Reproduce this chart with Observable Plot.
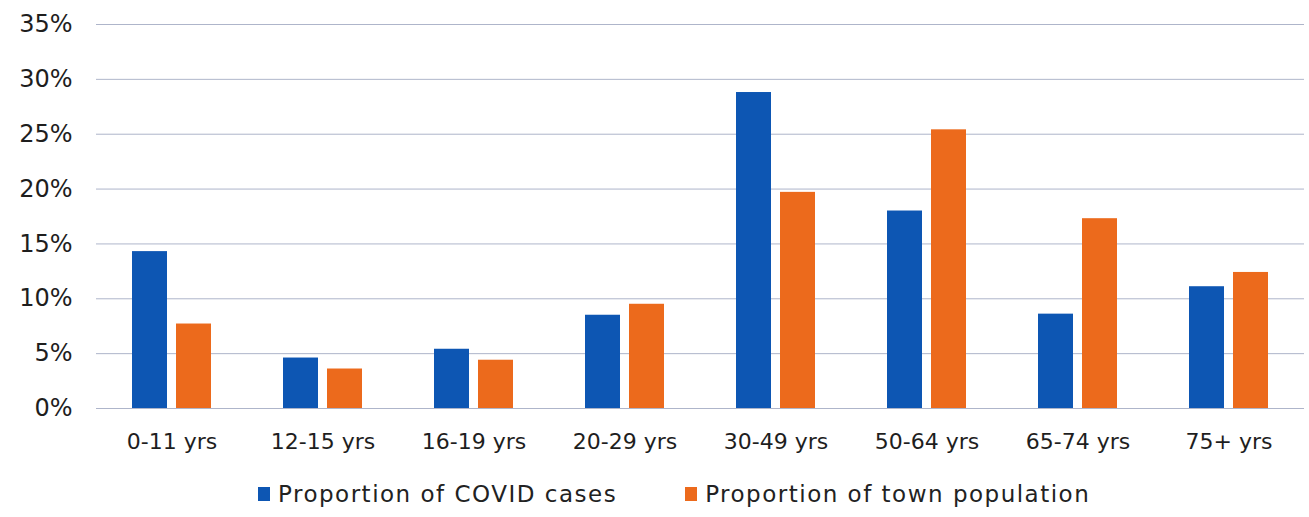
<!DOCTYPE html>
<html><head><meta charset="utf-8">
<script src="https://cdn.jsdelivr.net/npm/d3@7"></script>
<script src="https://cdn.jsdelivr.net/npm/@observablehq/plot@0.6"></script>
<style>
body{margin:0;background:#fff;font-family:"DejaVu Sans",sans-serif;}
#chart svg{display:block}
#chart g[aria-label="fx-axis tick label"] text{letter-spacing:1.6px}
#legend{display:flex;align-items:center;margin-left:258px;height:47px;font-size:23px;letter-spacing:1.5px;color:#222}
.item{display:flex;align-items:center;margin-right:68px}
.sw{width:12px;height:14px;margin-right:8px;display:inline-block}
</style></head><body><div id="chart"></div><div id="legend"></div>
<script>
const categories = ["0-11 yrs","12-15 yrs","16-19 yrs","20-29 yrs","30-49 yrs","50-64 yrs","65-74 yrs","75+ yrs"];
const seriesNames = ["Proportion of COVID cases","Proportion of town population"];
const covidCases = [14.3, 4.6, 5.4, 8.5, 28.8, 18.0, 8.6, 11.1];
const townPopulation = [7.7, 3.6, 4.4, 9.5, 19.7, 25.4, 17.3, 12.4];
const yTicks = [0, 5, 10, 15, 20, 25, 30, 35];
const colors = ["#0d56b3", "#ec6a1c"];

const data = categories.flatMap((c, i) => [
  {age: c, series: seriesNames[0], value: covidCases[i]},
  {age: c, series: seriesNames[1], value: townPopulation[i]}
]);

const common = {
  width: 1309, height: 470, marginLeft: 96, marginRight: 5, marginTop: 24, marginBottom: 62,
  style: {fontFamily: "DejaVu Sans", color: "#1e1e1e", background: "#fff"},
  y: {domain: [0, 35], axis: null, label: null},
  color: {domain: seriesNames, range: colors}
};

let chart;
try {
  chart = Plot.plot({
    ...common,
    fx: {domain: categories, paddingInner: 0.48, paddingOuter: 0.24, label: null},
    x: {domain: seriesNames, paddingInner: 0.23, paddingOuter: 0, axis: null},
    marks: [
      Plot.gridY(yTicks, {facet: "super", stroke: "#9aa3bd", strokeOpacity: 0.8, strokeWidth: 1}),
      Plot.axisY(yTicks, {facet: "super", tickSize: 0, tickPadding: 24, tickFormat: d => d + "%", fontSize: 24, label: null}),
      Plot.barY(data, {fx: "age", x: "series", y: "value", fill: "series"}),
      Plot.axisFx({anchor: "bottom", tickSize: 0, tickPadding: 25, fontSize: 22, label: null})
    ]
  });
} catch (e) {
  chart = Plot.plot({
    ...common,
    x: {domain: categories, paddingInner: 0.48, paddingOuter: 0.24, label: null},
    marks: [
      Plot.gridY(yTicks, {stroke: "#9aa3bd", strokeOpacity: 0.8, strokeWidth: 1}),
      Plot.axisY(yTicks, {tickSize: 0, tickPadding: 24, tickFormat: d => d + "%", fontSize: 24, label: null}),
      Plot.barY(data.filter(d => d.series === seriesNames[0]), {x: "age", y: "value", fill: "series", insetRight: 44}),
      Plot.barY(data.filter(d => d.series === seriesNames[1]), {x: "age", y: "value", fill: "series", insetLeft: 44}),
      Plot.axisX({tickSize: 0, tickPadding: 25, fontSize: 22, label: null})
    ]
  });
}
document.getElementById("chart").append(chart);

const legend = document.getElementById("legend");
seriesNames.forEach((name, i) => {
  const item = document.createElement("span");
  item.className = "item";
  const sw = document.createElement("span");
  sw.className = "sw";
  sw.style.background = colors[i];
  item.append(sw, document.createTextNode(name));
  legend.append(item);
});
</script></body></html>
